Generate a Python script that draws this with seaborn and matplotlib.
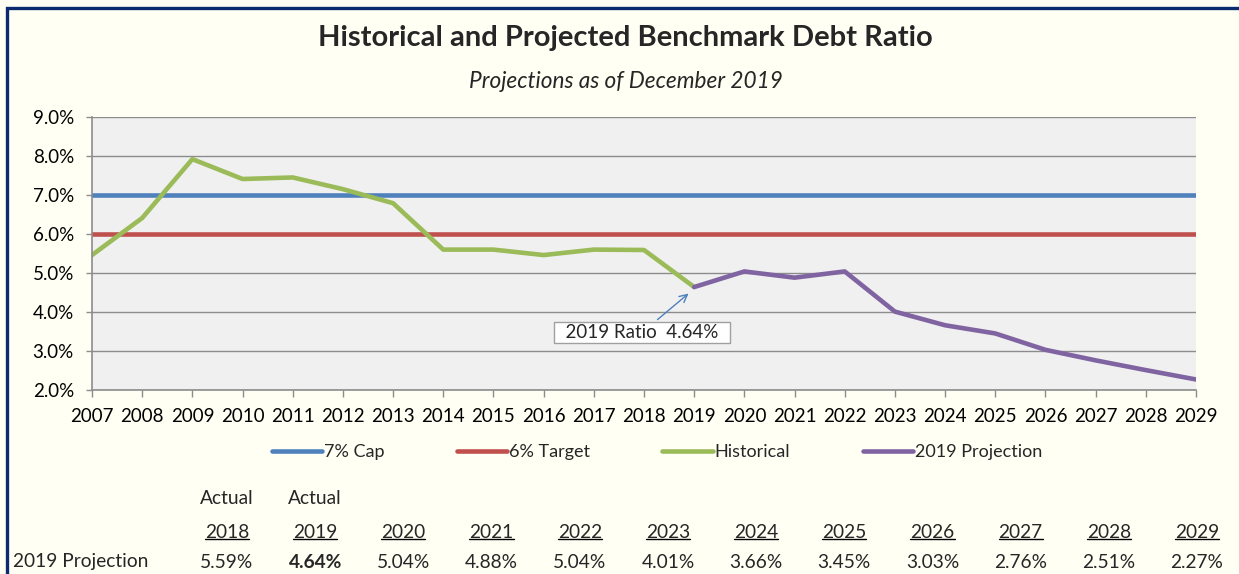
import matplotlib.pyplot as plt
import matplotlib.lines as mlines
import matplotlib.patches as mpatches
import numpy as np
import pandas as pd
import seaborn as sns
from matplotlib.ticker import FuncFormatter

sns.set_theme(style="whitegrid", rc={
    "axes.facecolor": "#F0F0F0",
    "figure.facecolor": "#FFFFF4",
    "grid.color": "#8C8C8C",
    "grid.linewidth": 1.0,
    "axes.edgecolor": "#8C8C8C",
})
plt.rcParams["font.family"] = ["Lato", "DejaVu Sans"]

years = list(range(2007, 2030))
cap = [7.0] * len(years)
target = [6.0] * len(years)
hist_years = list(range(2007, 2020))
historical = [5.46, 6.41, 7.92, 7.41, 7.45, 7.15, 6.79, 5.60, 5.60, 5.46, 5.60, 5.59, 4.64]
proj_years = list(range(2019, 2030))
projection = [4.64, 5.04, 4.88, 5.04, 4.01, 3.66, 3.45, 3.03, 2.76, 2.51, 2.27]

table_years = ["2018", "2019", "2020", "2021", "2022", "2023", "2024", "2025", "2026", "2027", "2028", "2029"]
table_head = ["Actual", "Actual"] + [""] * 10
table_vals = ["5.59%", "4.64%", "5.04%", "4.88%", "5.04%", "4.01%", "3.66%", "3.45%", "3.03%", "2.76%", "2.51%", "2.27%"]

df_lines = pd.DataFrame({"year": years, "cap": cap, "target": target})
df_hist = pd.DataFrame({"year": hist_years, "ratio": historical})
df_proj = pd.DataFrame({"year": proj_years, "ratio": projection})

fig = plt.figure(figsize=(12.39, 5.74), dpi=100)
ax = fig.add_axes([92 / 1239, 1 - 390 / 574, (1196 - 92) / 1239, (390 - 117) / 574])

lw = 3.3
sns.lineplot(data=df_lines, x="year", y="cap", color="#4F81BD", linewidth=lw, label="7% Cap", ax=ax, legend=False)
sns.lineplot(data=df_lines, x="year", y="target", color="#C0504D", linewidth=lw, label="6% Target", ax=ax, legend=False)
sns.lineplot(data=df_hist, x="year", y="ratio", color="#9BBB59", linewidth=lw, label="Historical", ax=ax, legend=False)
sns.lineplot(data=df_proj, x="year", y="ratio", color="#8064A2", linewidth=lw, label="2019 Projection", ax=ax, legend=False)

ax.set_xlim(2007, 2029)
ax.set_ylim(2, 9)
ax.set_xticks(years)
ax.set_yticks(np.arange(2, 9.5, 1))
ax.yaxis.set_major_formatter(FuncFormatter(lambda v, p: f"{v:.1f}%"))
ax.grid(axis="x", visible=False)
ax.set_xlabel("")
ax.set_ylabel("")
ax.tick_params(axis="both", labelsize=13.5, colors="#8C8C8C", labelcolor="black",
               direction="out", length=5, width=1)
ax.tick_params(axis="x", pad=8)
ax.tick_params(axis="y", length=4, pad=9)
ax.tick_params(bottom=True, left=True)
for side in ["top", "right"]:
    ax.spines[side].set_visible(False)
for side in ["left", "bottom"]:
    ax.spines[side].set_color("#8C8C8C")
    ax.spines[side].set_linewidth(1.2)

ax.annotate("  2019 Ratio  4.64%  ", xy=(2018.93, 4.52), xytext=(2017.96, 3.47),
            ha="center", va="center", fontsize=13.5,
            bbox=dict(boxstyle="square,pad=0.12", fc="white", ec="#A0A0A0", lw=1),
            arrowprops=dict(arrowstyle="->", color="#4F81BD", lw=1, mutation_scale=14))

fig.text(0.505, 1 - 38 / 574, "Historical and Projected Benchmark Debt Ratio",
         ha="center", va="center", fontsize=21, fontweight="bold")
fig.text(0.505, 1 - 82 / 574, "Projections as of December 2019",
         ha="center", va="center", fontsize=16.3, style="italic")

handles, labels = ax.get_legend_handles_labels()
fig.legend(handles, labels, loc="center", bbox_to_anchor=(657 / 1239, 1 - 452 / 574),
           ncol=4, frameon=False, fontsize=13, handlelength=2.8, handletextpad=0.1,
           columnspacing=4.0)

# table under the chart
xs = np.linspace(227, 1197, len(table_years)) / 1239
fig.text(13 / 1239, 1 - 562 / 574, "2019 Projection", ha="left", va="center", fontsize=13.8)
year_texts = []
for x, head, yr, val in zip(xs, table_head, table_years, table_vals):
    if head:
        fig.text(x, 1 - 499 / 574, head, ha="center", va="center", fontsize=13.8)
    year_texts.append(fig.text(x, 1 - 532 / 574, yr, ha="center", va="center", fontsize=13.8))
    fig.text(x, 1 - 562 / 574, val, ha="center", va="center", fontsize=13.8,
             fontweight="bold" if yr == "2019" else "normal")

fig.canvas.draw()
renderer = fig.canvas.get_renderer()
for t in year_texts:
    bb = t.get_window_extent(renderer).transformed(fig.transFigure.inverted())
    fig.add_artist(mlines.Line2D([bb.x0, bb.x1], [bb.y0 + 0.002, bb.y0 + 0.002],
                                 color="black", lw=1, transform=fig.transFigure))

# navy frame (top and left edge visible)
fig.add_artist(mpatches.Rectangle((7 / 1239, -0.05), 1.2, 1 - 8 / 574 + 0.05,
                                  fill=False, ec="#0B2A6F", lw=2.4, transform=fig.transFigure))

fig.savefig("out.png", dpi=100)
